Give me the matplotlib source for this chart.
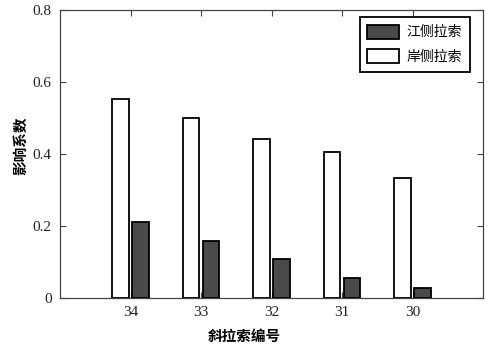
import numpy as np
import matplotlib.pyplot as plt

plt.rcParams['font.family'] = ['Liberation Serif', 'Noto Sans CJK SC']

cables = ['34', '33', '32', '31', '30']
river_side = [0.21, 0.158, 0.107, 0.056, 0.029]   # 江侧拉索
bank_side = [0.552, 0.499, 0.442, 0.405, 0.333]   # 岸侧拉索

fig = plt.figure(figsize=(4.95, 3.51), dpi=100)
ax = fig.add_axes([60 / 495, 1 - 298 / 351, 423 / 495, 288 / 351])

x = np.arange(1, len(cables) + 1)
w = 0.23
ax.bar(x + 0.142, river_side, w, color='#4a4a4a', edgecolor='black', linewidth=1.3,
       label='江侧拉索', zorder=3)
ax.bar(x - 0.142, bank_side, w, color='white', edgecolor='black', linewidth=1.3,
       label='岸侧拉索', zorder=3)

ax.set_xlim(0, 6)
ax.set_ylim(0, 0.8)
ax.set_xticks(x)
ax.set_xticklabels(cables)
ax.set_yticks([0, 0.2, 0.4, 0.6, 0.8])
ax.set_yticklabels(['0', '0.2', '0.4', '0.6', '0.8'])
ax.tick_params(direction='in', top=True, right=True, labelsize=11, length=4, pad=6,
               color='#444444', labelcolor='#222222')
for s in ax.spines.values():
    s.set_color('#444444')
    s.set_linewidth(0.9)

ax.set_xlabel('斜拉索编号', family=['Noto Sans CJK SC'], fontsize=10.5,
              fontweight='bold', labelpad=6, x=0.435)
ax.set_ylabel('影响系数', family=['Noto Sans CJK SC'], fontsize=10.5,
              fontweight='bold', labelpad=3, y=0.53)

leg = ax.legend(loc='upper right', bbox_to_anchor=(0.969, 0.976),
                prop={'family': 'Noto Sans CJK SC', 'size': 10},
                fancybox=False, framealpha=1, edgecolor='black',
                handlelength=2.3, handleheight=1.2, labelspacing=0.7,
                handletextpad=0.55, borderpad=0.55, borderaxespad=0)
leg.get_frame().set_linewidth(1.3)

fig.savefig('out.png', dpi=100)
